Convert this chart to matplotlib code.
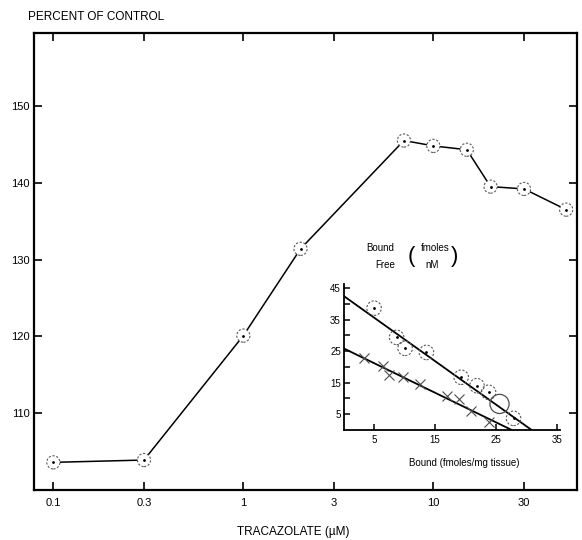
import matplotlib
matplotlib.use("Agg")
import matplotlib.pyplot as plt
from matplotlib.ticker import NullLocator

plt.rcParams['font.family'] = ['Liberation Sans', 'DejaVu Sans']

# main curve: tracazolate concentration (uM) vs percent of control
conc = [0.1, 0.3, 1, 2, 7, 10, 15, 20, 30, 50]
pct = [103.6, 103.9, 120.1, 131.4, 145.5, 144.8, 144.3, 139.5, 139.2, 136.5]
x_ticks = [0.1, 0.3, 1, 3, 10, 30]
x_ticklabels = ['0.1', '0.3', '1', '3', '10', '30']
y_ticks = [110, 120, 130, 140, 150]

# inset: Scatchard plot (bound vs bound/free)
circ_x = [5.0, 8.7, 10.1, 13.6, 19.3, 21.9, 23.8, 27.9]
circ_y = [38.7, 29.4, 25.9, 24.6, 16.7, 14.0, 11.9, 3.6]
big_x = [25.6]
big_y = [8.2]
cross_x = [3.35, 6.4, 7.5, 9.8, 12.5, 16.9, 19.0, 20.9, 23.9]
cross_y = [22.9, 20.3, 17.4, 16.7, 14.6, 10.7, 9.7, 6.1, 2.5]
fit_upper_x = [0, 30.8]
fit_upper_y = [42.6, 0]
fit_lower_x = [0, 27.5]
fit_lower_y = [25.9, 0]
inset_xticks = [5, 15, 25, 35]
inset_yticks = [5, 15, 25, 35, 45]
inset_yminor = [10, 20, 30, 40]

fig = plt.figure(figsize=(5.82, 5.4), dpi=100)
ax = fig.add_axes([0.0584, 0.0926, 0.9330, 0.8463])

ax.plot(conc, pct, color='k', lw=1.1, zorder=2)
ax.scatter(conc, pct, s=90, facecolors='white', edgecolors='0.35',
           linewidths=0.8, linestyles=(0, (2, 1.5)), zorder=3)
ax.plot(conc, pct, linestyle='none', marker='.', ms=2, color='k', zorder=4)

ax.set_xscale('log')
ax.set_xlim(0.0791, 57)
ax.set_ylim(100, 159.5)
ax.set_xticks(x_ticks)
ax.set_xticklabels(x_ticklabels)
ax.xaxis.set_minor_locator(NullLocator())
ax.set_yticks(y_ticks)
ax.tick_params(direction='in', top=True, right=True, length=6, width=1.2,
               labelsize=8)
ax.tick_params(axis='x', pad=6)
ax.tick_params(axis='y', pad=3)
for s in ax.spines.values():
    s.set_linewidth(1.6)

fig.text(28 / 582, 1 - 17 / 540, 'PERCENT OF CONTROL', ha='left', va='center',
         fontsize=8.5)
fig.text(293.6 / 582, 1 - 532 / 540, 'TRACAZOLATE (µM)', ha='center',
         va='center', fontsize=8.5)

# inset
ax2 = fig.add_axes([0.5904, 0.2043, 0.3715, 0.2704])
ax2.patch.set_alpha(0)
ax2.plot(fit_upper_x, fit_upper_y, color='k', lw=1.3, zorder=2)
ax2.plot(fit_lower_x, fit_lower_y, color='k', lw=1.3, zorder=2)
ax2.scatter(circ_x, circ_y, s=110, facecolors='none', edgecolors='0.35',
            linewidths=0.8, linestyles=(0, (2, 1.5)), zorder=3)
ax2.plot(circ_x, circ_y, linestyle='none', marker='.', ms=2, color='k')
ax2.scatter(big_x, big_y, s=190, facecolors='none', edgecolors='0.3',
            linewidths=0.9, zorder=3)
ax2.plot(cross_x, cross_y, linestyle='none', marker='x', ms=7, mew=0.8,
         color='0.3')
ax2.set_xlim(0, 35.5)
ax2.set_ylim(0, 46.5)
ax2.set_xticks(inset_xticks)
ax2.set_yticks(inset_yticks)
ax2.set_yticks(inset_yminor, minor=True)
ax2.spines['top'].set_visible(False)
ax2.spines['right'].set_visible(False)
for s in ['left', 'bottom']:
    ax2.spines[s].set_linewidth(1.3)
ax2.tick_params(which='both', direction='in', length=4, width=1.1,
                labelsize=7)
ax2.tick_params(axis='x', pad=4)
ax2.tick_params(axis='y', pad=2)

fig.text(464.7 / 582, 1 - 462.7 / 540, 'Bound (fmoles/mg tissue)', ha='center',
         va='center', fontsize=7)
fig.text(380 / 582, 1 - 248 / 540, 'Bound', ha='center', va='center',
         fontsize=7)
fig.text(385 / 582, 1 - 265 / 540, 'Free', ha='center', va='center',
         fontsize=7)
fig.text(435 / 582, 1 - 248 / 540, 'fmoles', ha='center', va='center',
         fontsize=7)
fig.text(432 / 582, 1 - 265 / 540, 'nM', ha='center', va='center',
         fontsize=7)
fig.text(411 / 582, 1 - 257 / 540, '(', ha='center', va='center',
         fontsize=16)
fig.text(455 / 582, 1 - 257 / 540, ')', ha='center', va='center',
         fontsize=16)

fig.savefig('out.png', dpi=100)
